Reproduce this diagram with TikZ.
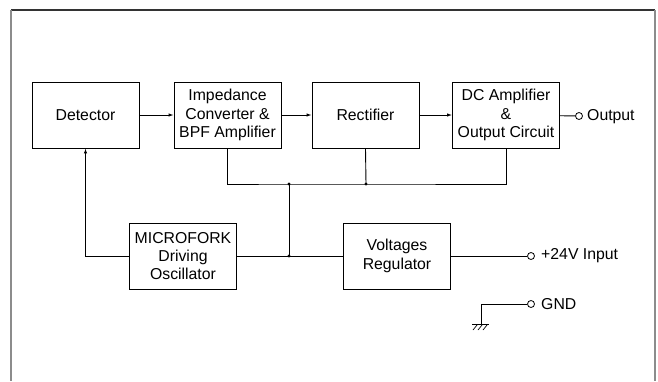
\documentclass[tikz,border=0pt]{standalone}
\usepackage{fontspec}
\setmainfont{Liberation Sans}
\usetikzlibrary{arrows.meta}

\tikzset{
  block/.style={draw, line width=0.9pt, minimum width=107pt, minimum height=66pt,
    align=center, inner sep=1pt, font=\fontsize{15.8}{18.3}\selectfont},
  wire/.style={line width=0.9pt},
  feed/.style={wire, -{Latex[length=5pt,width=3.5pt]}},
  term/.style={draw, circle, line width=0.8pt, minimum size=7pt, inner sep=0pt},
  label/.style={anchor=base west, inner sep=0pt, font=\fontsize{15.8}{18.3}\selectfont}
}

\begin{document}
\begin{tikzpicture}[x=1pt,y=-1pt]
            \useasboundingbox (0,0) rectangle (658,381);

            \draw[line width=1.2pt, black!80] (11,10)--(655,10);
            \draw[line width=1.3pt, black!45] (11,10)--(11,381);
            \draw[line width=1.3pt, black!45] (655,10)--(655,381);

            \node[block] (det) at (85.5,115) {Detector};
            \node[block] (imp) at (227.5,115) {Impedance\\Converter \&\\BPF Amplifier};
            \node[block] (rect) at (365.5,115) {Rectifier};
            \node[block] (dcamp) at (506,115) {DC Amplifier\\\&\\Output Circuit};
            \node[block] (osc) at (183,256) {MICROFORK\\Driving\\Oscillator};
            \node[block] (reg) at (397,256) {Voltages\\Regulator};

            \draw[feed] (det) -- (imp);
            \draw[feed] (imp) -- (rect);
            \draw[feed] (rect) -- (dcamp);

            \node[term] (out) at (579,116) {};
            \node[label] (outtxt) at (587,120) {Output};
            \draw[wire] (dcamp) -- (out);

            \coordinate (j1) at (289,184);
            \coordinate (j2) at (366,184);
            \coordinate (j3) at (289,256);
            \draw[wire] (imp.south) |- (j1) -- (j2) -| (dcamp.south);
            \draw[wire] (rect.south) -- (j2);
            \draw[wire] (j1) -- (j3);
            \foreach \j in {j1,j2,j3}{
                \fill (\j) circle (1.6pt);
            }

            \draw[wire] (osc) -- (reg);
            \draw[feed] (osc.west) -| (det.south);

            \node[term] (vin) at (531,256) {};
            \node[label] (vintxt) at (541,259.5) {+24V Input};
            \draw[wire] (reg) -- (vin);

            \node[term] (gnd) at (531,304) {};
            \node[label] (gndtxt) at (541,309.5) {GND};
            \coordinate (g0) at (481,324);
            \draw[wire] (gnd) -| (g0);
            \draw[wire] (472,324) -- (489,324);
            \foreach \x in {473,478,483}{
                \draw[line width=0.7pt] (\x,330) -- (\x+4,325);
            }
        \end{tikzpicture}
\end{document}
